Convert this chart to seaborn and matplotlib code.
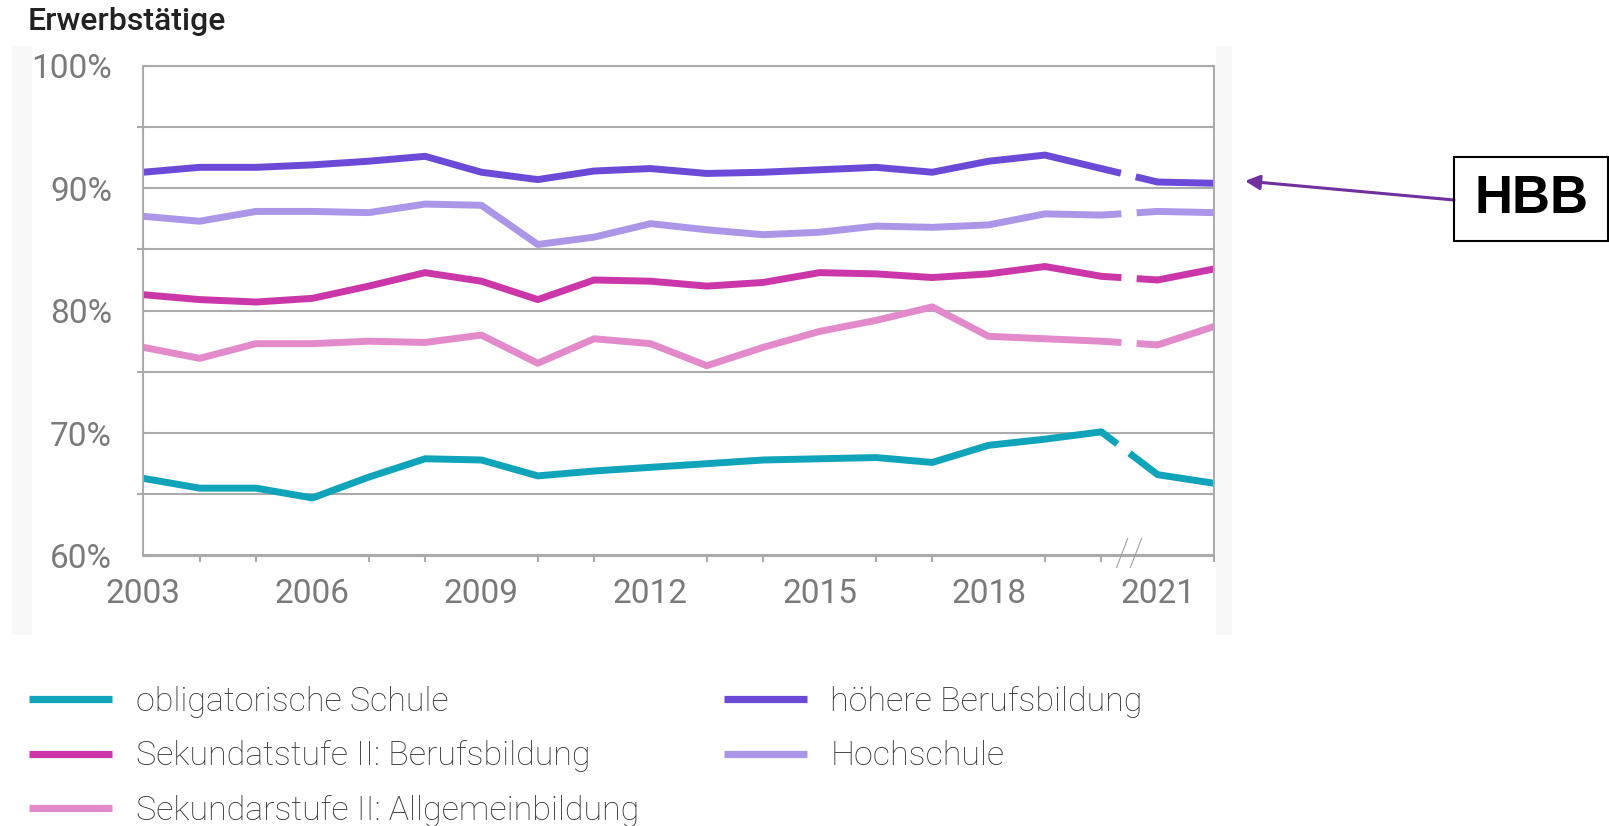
import numpy as np
import pandas as pd
import matplotlib.pyplot as plt
import seaborn as sns
from matplotlib.patches import Rectangle
from matplotlib.lines import Line2D
from matplotlib.ticker import MultipleLocator, FuncFormatter

# Erwerbstätigenquote nach Bildungsabschluss
years = list(range(2003, 2023))
obligatorisch = [66.3, 65.5, 65.5, 64.7, 66.4, 67.9, 67.8, 66.5, 66.9, 67.2,
                 67.5, 67.8, 67.9, 68.0, 67.6, 69.0, 69.5, 70.1, 66.6, 65.9]
sek_beruf = [81.3, 80.9, 80.7, 81.0, 82.0, 83.1, 82.4, 80.9, 82.5, 82.4,
             82.0, 82.3, 83.1, 83.0, 82.7, 83.0, 83.6, 82.8, 82.5, 83.4]
sek_allg = [77.0, 76.1, 77.3, 77.3, 77.5, 77.4, 78.0, 75.7, 77.7, 77.3,
            75.5, 77.0, 78.3, 79.2, 80.3, 77.9, 77.7, 77.5, 77.2, 78.7]
hbb = [91.3, 91.7, 91.7, 91.9, 92.2, 92.6, 91.3, 90.7, 91.4, 91.6,
       91.2, 91.3, 91.5, 91.7, 91.3, 92.2, 92.7, 91.6, 90.5, 90.4]
hochschule = [87.7, 87.3, 88.1, 88.1, 88.0, 88.7, 88.6, 85.4, 86.0, 87.1,
              86.6, 86.2, 86.4, 86.9, 86.8, 87.0, 87.9, 87.8, 88.1, 88.0]

labels = ["obligatorische Schule", "Sekundatstufe II: Berufsbildung",
          "Sekundarstufe II: Allgemeinbildung", "höhere Berufsbildung", "Hochschule"]
colors = ["#0fa4ba", "#cb37a8", "#e38acb", "#6c4ad8", "#ab96e8"]
xticks = [2003, 2006, 2009, 2012, 2015, 2018, 2021]
break_year = 2020  # Zeitreihenbruch zwischen 2020 und 2021

series = [obligatorisch, sek_beruf, sek_allg, hbb, hochschule]
df = pd.concat([pd.DataFrame({"Jahr": years, "Wert": s, "Gruppe": lab})
                for s, lab in zip(series, labels)], ignore_index=True)
palette = dict(zip(labels, colors))

sns.set_theme(style="white")
plt.rcParams["font.family"] = ["Roboto", "DejaVu Sans"]

fig = plt.figure(figsize=(16.09, 8.26), dpi=100)
ax = fig.add_axes([143.3 / 1609, 1 - 555.5 / 826, (1214 - 143.3) / 1609, (555.5 - 65.7) / 826])

# leichter grauer Rahmen hinter der Grafik
fig.add_artist(Rectangle((12 / 1609, 1 - 635 / 826), 1220 / 1609, 589 / 826,
                         transform=fig.transFigure, fc="#f8f8f8", ec="none", zorder=-2))
fig.add_artist(Rectangle((32 / 1609, 1 - 635 / 826), 1184 / 1609, 589 / 826,
                         transform=fig.transFigure, fc="white", ec="none", zorder=-1))
ax.set_facecolor("none")

lw = 5
pre = df[df["Jahr"] <= break_year]
post = df[df["Jahr"] > break_year]
sns.lineplot(data=pre, x="Jahr", y="Wert", hue="Gruppe", hue_order=labels,
             palette=palette, lw=lw, legend=False, ax=ax)
sns.lineplot(data=post, x="Jahr", y="Wert", hue="Gruppe", hue_order=labels,
             palette=palette, lw=lw, legend=False, ax=ax)
bridge = df[df["Jahr"].isin([break_year, break_year + 1])]
for lab in labels:
    b = bridge[bridge["Gruppe"] == lab]
    ax.plot(b["Jahr"], b["Wert"], color=palette[lab], lw=lw,
            dashes=(2.9, 2.2, 30, 5), dash_capstyle="butt")

grid_c = "#ababab"
ax.set_xlim(2003, 2022)
ax.set_ylim(60, 100)
ax.set_xticks(xticks)
ax.xaxis.set_minor_locator(MultipleLocator(1))
ax.yaxis.set_major_locator(MultipleLocator(10))
ax.yaxis.set_minor_locator(MultipleLocator(5))
ax.yaxis.set_major_formatter(FuncFormatter(lambda v, p: f"{v:.0f}%"))
ax.grid(True, axis="y", which="both", color=grid_c, lw=1.5)
ax.set_axisbelow(True)
for side in ["left", "bottom", "right", "top"]:
    ax.spines[side].set_color(grid_c)
    ax.spines[side].set_linewidth(1.5)
ax.tick_params(axis="both", which="both", direction="out", length=4.5, width=1.5,
               color=grid_c, labelcolor="#7a7a7a", labelsize=24)
ax.tick_params(axis="y", which="major", pad=18)
ax.tick_params(axis="x", which="major", pad=12)
ax.tick_params(axis="x", which="minor", bottom=True)
ax.tick_params(axis="y", which="minor", left=True)
ax.set_xlabel("")
ax.set_ylabel("")
ax.text(break_year + 0.5, 60, "//", ha="center", va="center", fontsize=28,
        color="#9a9a9a", clip_on=False, fontweight="light")

fig.text(28 / 1609, 1 - 21 / 826, "Erwerbstätige", fontsize=23, fontweight="medium",
         color="#222222", va="center", ha="left")

handles = [Line2D([0], [0], color=c, lw=5.2, solid_capstyle="butt") for c in colors]
leg = fig.legend(handles, labels, ncol=2, loc="upper left",
                 bbox_to_anchor=(29 / 1609, 1 - 686 / 826), frameon=False,
                 fontsize=24.5, handlelength=2.45, handletextpad=0.68,
                 columnspacing=2.5, labelspacing=0.66, borderpad=0, borderaxespad=0)
for t in leg.get_texts():
    t.set_color("#333333")
    t.set_fontweight("light")

# Hinweis HBB
fig.add_artist(Rectangle((1454 / 1609, 1 - 241 / 826), 154 / 1609, 84 / 826,
                         transform=fig.transFigure, fill=False, ec="black", lw=1.5))
fig.text(1532 / 1609, 1 - 199 / 826, "HBB", ha="center", va="center", fontsize=38,
         fontweight="bold", color="black", family=["Liberation Sans", "DejaVu Sans"])
ax.annotate("", xy=(1245 / 1609, 1 - 181 / 826), xycoords="figure fraction",
            xytext=(1454 / 1609, 1 - 200 / 826), textcoords="figure fraction",
            annotation_clip=False,
            arrowprops=dict(arrowstyle="-|>", color="#7030a0", lw=2.2,
                            mutation_scale=22, shrinkA=0, shrinkB=0))

fig.savefig("out.png", dpi=100)
